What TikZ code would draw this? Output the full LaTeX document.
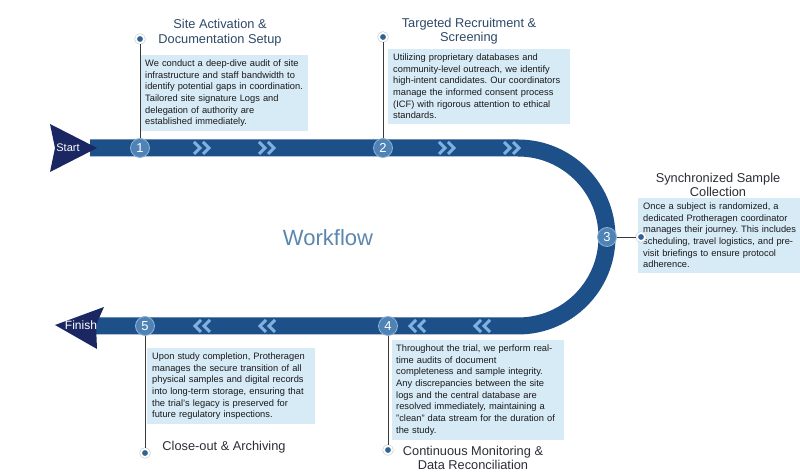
\documentclass[tikz,border=0pt]{standalone}
\usepackage{fontspec}
\setmainfont{Liberation Sans}
\usetikzlibrary{calc}
\frenchspacing

\definecolor{bandblue}{HTML}{1D4F88}
\definecolor{navy}{HTML}{1A2762}
\definecolor{numblue}{HTML}{4F82B5}
\definecolor{numrim}{HTML}{8DB3D6}
\definecolor{chevblue}{HTML}{7FB2E0}
\definecolor{boxfill}{HTML}{D7EBF7}
\definecolor{wfblue}{HTML}{5B87AE}
\definecolor{pingrey}{HTML}{3A3A3A}
\definecolor{dotblue}{HTML}{2F6396}
\definecolor{titleblue}{HTML}{2C4A68}
\definecolor{titledark}{HTML}{2B2F36}

\begin{document}
\begin{tikzpicture}[
  x=1pt, y=1pt,
  band/.style   ={draw=bandblue,line width=17pt},
  head/.style   ={fill=navy},
  headtxt/.style={text=white,inner sep=0},
  num/.style    ={circle,fill=numblue,draw=numrim,line width=0.8pt,minimum size=19pt,
                  inner sep=0,text=white,font=\fontsize{13}{13}\selectfont},
  chev/.style   ={draw=chevblue,line width=3pt,line join=miter},
  pinline/.style={draw=pingrey,line width=0.9pt},
  pindot/.style ={circle,fill=dotblue,draw=white,line width=1.8pt,minimum size=8pt,inner sep=0,
                  preaction={draw=black!18,line width=3.2pt}},
  txt/.style    ={fill=boxfill,anchor=north west,align=left,inner xsep=5pt,inner ysep=4.5pt,
                  text=black!90,font=\fontsize{9.3}{11.7}\selectfont},
  ttl/.style    ={align=center,font=\fontsize{12.8}{14.5}\selectfont},
]
\fill[white] (0,0) rectangle (800,473);
\useasboundingbox (0,0) rectangle (800,473);

% ------------------------------------------------------------ the track
% straight run at y=325, half turn of radius 89 round (518,236), back at y=147
\draw[band] (90,325) -- (518,325) arc[start angle=90, end angle=-90, radius=89] -- (95,147);

% start and finish heads
\fill[head] (50,349) -- (97,325) -- (50,301) -- (55,325) -- cycle;
\node[headtxt,font=\fontsize{11}{11}\selectfont] (start) at (68,325) {Start};
\fill[head] (55,148) -- (104,166) -- (96,148) -- (97,124) -- cycle;
\node[headtxt,font=\fontsize{12}{12}\selectfont] (finish) at (81,148) {Finish};

% chevrons on the track (s = direction)
\foreach \x/\y/\s in {202/325/1, 267/325/1, 447/325/1, 512/325/1,
                      202/147/-1, 267/147/-1, 417/147/-1, 482/147/-1} {
  \foreach \o in {-4.5,4.5}
    \draw[chev] ({\x+\o-3.5*\s},\y+6) -- ({\x+\o+2.5*\s},\y) -- ({\x+\o-3.5*\s},\y-6);
}

\node[wfblue,font=\fontsize{22}{22}\selectfont] (wf) at (328,235) {Workflow};

% ------------------------------------------------------------ text boxes
\node[txt,text width=158pt] (b1) at (140,418)
  {We conduct a deep-dive audit of site\\
   infrastructure and staff bandwidth to\\
   identify potential gaps in coordination.\\
   Tailored site signature Logs and\\
   delegation of authority are\\
   established immediately.};
\node[txt,text width=172pt] (b2) at (388,424)
  {Utilizing proprietary databases and\\
   community-level outreach, we identify\\
   high-intent candidates. Our coordinators\\
   manage the informed consent process\\
   (ICF) with rigorous attention to ethical\\
   standards.};
\node[txt,text width=160pt] (b3) at (638,275)
  {Once a subject is randomized, a\\
   dedicated Protheragen coordinator\\
   manages their journey. This includes\\
   scheduling, travel logistics, and pre-\\
   visit briefings to ensure protocol\\
   adherence.};
\node[txt,text width=164pt,inner xsep=4pt] (b4) at (392,133)
  {Throughout the trial, we perform real-\\
   time audits of document\\
   completeness and sample integrity.\\
   Any discrepancies between the site\\
   logs and the central database are\\
   resolved immediately, maintaining a\\
   "clean" data stream for the duration of\\
   the study.};
\node[txt,text width=158pt] (b5) at (147,125)
  {Upon study completion, Protheragen\\
   manages the secure transition of all\\
   physical samples and digital records\\
   into long-term storage, ensuring that\\
   the trial's legacy is preserved for\\
   future regulatory inspections.};

% ------------------------------------------------------------ steps and pins
\foreach \i/\nx/\ny/\dx/\dy in {1/140/325/140/434, 2/383/325/383/436, 3/607/236/641/236,
                                4/388/147/388/23,  5/145/147/145/20} {
  \node[num] (n\i) at (\nx,\ny) {\i};
  \node[pindot] (d\i) at (\dx,\dy) {};
  \draw[pinline] (n\i) -- (d\i);
}

% ------------------------------------------------------------ titles
\node[ttl,titleblue] (t1) at (220,440.5) {Site Activation \&\\Documentation Setup};
\node[ttl,titleblue] (t2) at (469,442)   {Targeted Recruitment \&\\Screening};
\node[ttl,titledark] (t3) at (718,288)   {Synchronized Sample\\Collection};
\node[ttl,titledark] (t4) at (473,15)    {Continuous Monitoring \&\\Data Reconciliation};
\node[ttl,titledark] (t5) at (224,26)    {Close-out \& Archiving};

\end{tikzpicture}
\end{document}
